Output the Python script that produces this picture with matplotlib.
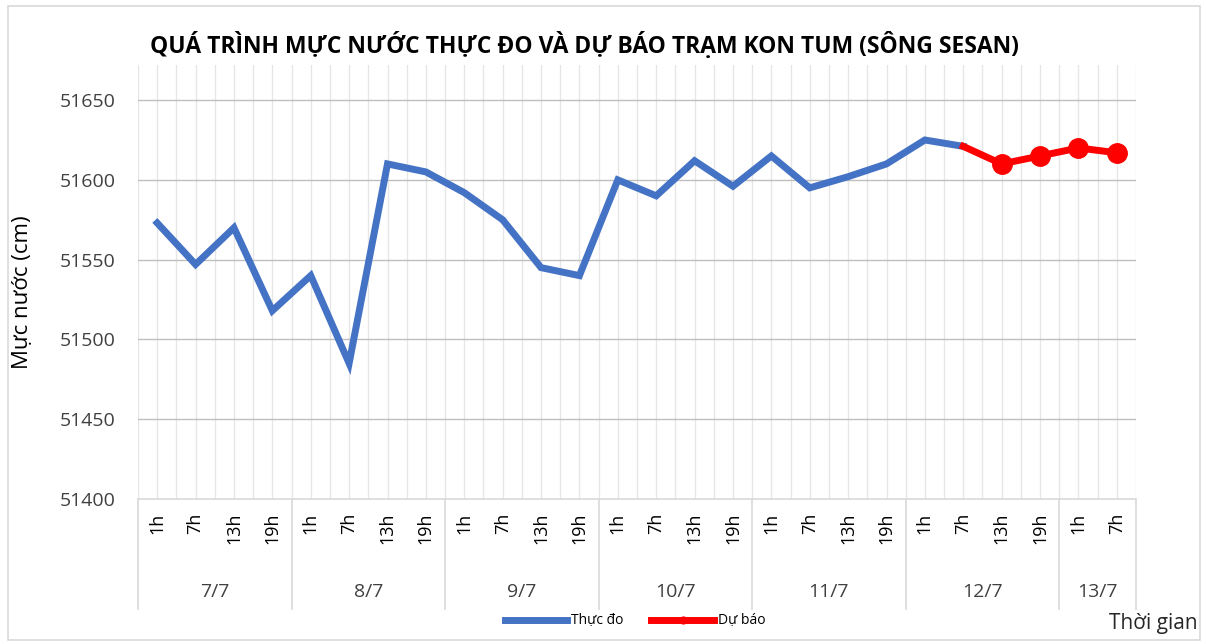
import matplotlib.pyplot as plt
from matplotlib.patches import Rectangle

plt.rcParams['font.family'] = ['Open Sans', 'DejaVu Sans']

# Data
days = ['7/7', '8/7', '9/7', '10/7', '11/7', '12/7', '13/7']
hours = ['1h', '7h', '13h', '19h'] * 6 + ['1h', '7h']
observed = [51573, 51547, 51570, 51518, 51540, 51485, 51610, 51605,
            51592, 51575, 51545, 51540, 51600, 51590, 51612, 51596,
            51615, 51595, 51602, 51610, 51625, 51621]
forecast = [51621, 51610, 51615, 51620, 51617]
forecast_start = 21

W, H = 1206, 644
fig = plt.figure(figsize=(W / 100, H / 100), dpi=100)
fig.patches.append(Rectangle((8 / W, 4 / H), 1192 / W, 634 / H, transform=fig.transFigure,
                             fill=False, edgecolor='#d9d9d9', linewidth=1.2))

left, right, top, bottom = 138, 1136, 65, 499
ax = fig.add_axes([left / W, 1 - bottom / H, (right - left) / W, (bottom - top) / H])

x_obs = list(range(len(observed)))
x_fc = list(range(forecast_start, forecast_start + len(forecast)))

ax.plot(x_obs, observed, color='#4472c4', linewidth=5, solid_joinstyle='miter',
        label='Thực đo', zorder=3)
ax.plot(x_fc, forecast, color='#ff0000', linewidth=5, marker='o', markersize=14,
        markevery=list(range(1, len(forecast))), label='Dự báo', zorder=4)

ax.set_xlim(-0.5, len(hours) - 0.5)
ax.set_ylim(51400, 51672)
ax.set_yticks(range(51400, 51651, 50))
ax.tick_params(axis='y', length=0, labelsize=14, labelcolor='#404040', pad=16)

# gridlines
for yv in range(51450, 51651, 50):
    ax.axhline(yv, color='#bfbfbf', linewidth=1, zorder=1)
for i in range(len(hours) * 2 + 1):
    ax.axvline(-0.5 + i * 0.5, color='#e6e6e6', linewidth=1, zorder=0)

for s in ['top', 'right', 'left']:
    ax.spines[s].set_visible(False)
ax.spines['bottom'].set_color('#d9d9d9')
ax.spines['bottom'].set_linewidth(1.2)

ax.set_xticks(range(len(hours)))
ax.set_xticklabels(hours, rotation=90, fontsize=13, color='#000000')
ax.tick_params(axis='x', length=0, pad=10)

# day group labels and separators
trans = ax.get_xaxis_transform()
sep_bottom = -(610 - bottom) / (bottom - top)
bounds = [-0.5, 3.5, 7.5, 11.5, 15.5, 19.5, 23.5, 25.5]
ax.vlines(bounds, sep_bottom, 0, transform=trans, colors='#d9d9d9', linewidth=1.2, clip_on=False)
for d, a, b in zip(days, bounds[:-1], bounds[1:]):
    ax.text((a + b) / 2, -(592 - bottom) / (bottom - top), d, transform=trans,
            ha='center', va='center', fontsize=14, color='#404040')

ax.set_ylabel('Mực nước (cm)', fontsize=16)
ax.yaxis.set_label_coords(-(138 - 33) / (right - left), (bottom - 292) / (bottom - top))

fig.text(150 / W, 1 - 45 / H, 'QUÁ TRÌNH MỰC NƯỚC THỰC ĐO VÀ DỰ BÁO TRẠM KON TUM (SÔNG SESAN)',
         ha='left', va='center', fontsize=16.5, fontweight='bold', color='#000000')
fig.text(1198 / W, 1 - 623 / H, 'Thời gian', ha='right', va='center', fontsize=15, color='#262626')

ax.legend(loc='center', bbox_to_anchor=(635 / W, 1 - 621 / H), bbox_transform=fig.transFigure,
          ncol=2, frameon=False, fontsize=10, handlelength=4.5, columnspacing=2,
          handletextpad=0.3, markerscale=0.35)

fig.savefig('out.png', dpi=100)
